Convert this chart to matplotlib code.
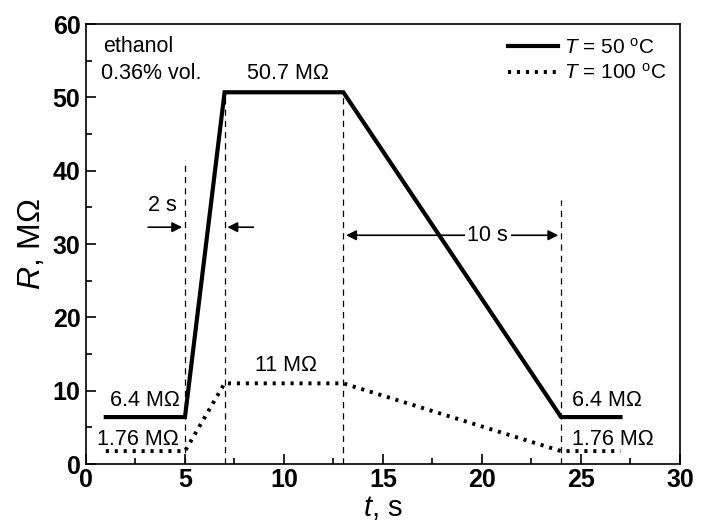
import matplotlib
matplotlib.use("Agg")
import matplotlib.pyplot as plt
from matplotlib.ticker import MultipleLocator

plt.rcParams['font.family'] = ['Liberation Sans', 'DejaVu Sans']
plt.rcParams['mathtext.fontset'] = 'custom'
plt.rcParams['mathtext.rm'] = 'Liberation Sans'
plt.rcParams['mathtext.it'] = 'Liberation Sans:italic'

t = [1, 5, 7, 13, 24, 27]
r50 = [6.4, 6.4, 50.7, 50.7, 6.4, 6.4]
r100 = [1.76, 1.76, 11, 11, 1.76, 1.76]

fig = plt.figure(figsize=(7.02, 5.24), dpi=100)
ax = fig.add_axes([0.1225, 0.1145, 0.846, 0.8395])

ax.plot(t, r50, color='black', lw=3, solid_joinstyle='miter', label=r'$T$ = 50 $^{\mathrm{o}}$C')
ax.plot(t, r100, color='black', lw=2.8, linestyle=(0, (0.8, 1.5)), label=r'$T$ = 100 $^{\mathrm{o}}$C')

# dashed guides
dash = dict(color='black', lw=0.9, linestyle=(0, (5, 4)))
ax.plot([5, 5], [0, 41.5], **dash)
ax.plot([7, 7], [0, 50.7], **dash)
ax.plot([13, 13], [0, 50.7], **dash)
ax.plot([24, 24], [0, 36], **dash)

# arrows
ap = dict(arrowstyle='-|>', color='black', lw=1.2, mutation_scale=15)
ax.annotate('', xy=(5, 32.3), xytext=(3.0, 32.3), arrowprops=ap)
ax.annotate('', xy=(7, 32.3), xytext=(8.6, 32.3), arrowprops=ap)
ax.annotate('', xy=(13, 31.2), xytext=(24, 31.2),
            arrowprops=dict(arrowstyle='<|-|>', color='black', lw=1.2, mutation_scale=15))
fs = 15.5
ax.text(20.3, 31.2, '10 s', ha='center', va='center', fontsize=fs,
        bbox=dict(facecolor='white', edgecolor='none', pad=2))
ax.text(3.85, 35.3, '2 s', ha='center', va='center', fontsize=fs)

ax.text(0.85, 56.9, 'ethanol', ha='left', va='center', fontsize=fs)
ax.text(0.75, 53.3, '0.36% vol.', ha='left', va='center', fontsize=fs)
ax.text(10.2, 53.3, '50.7 MΩ', ha='center', va='center', fontsize=fs)
ax.text(10.1, 13.4, '11 MΩ', ha='center', va='center', fontsize=fs)
ax.text(3.0, 8.6, '6.4 MΩ', ha='center', va='center', fontsize=fs)
ax.text(2.6, 3.4, '1.76 MΩ', ha='center', va='center', fontsize=fs)
ax.text(26.3, 8.6, '6.4 MΩ', ha='center', va='center', fontsize=fs)
ax.text(26.6, 3.4, '1.76 MΩ', ha='center', va='center', fontsize=fs)

ax.set_xlim(0, 30)
ax.set_ylim(0, 60)
ax.xaxis.set_major_locator(MultipleLocator(5))
ax.xaxis.set_minor_locator(MultipleLocator(2.5))
ax.yaxis.set_major_locator(MultipleLocator(10))
ax.yaxis.set_minor_locator(MultipleLocator(5))
ax.tick_params(which='both', direction='in', top=False, right=False, width=1.2)
ax.tick_params(which='major', length=7, labelsize=18, pad=4)
ax.tick_params(axis='x', which='major', pad=3)
ax.tick_params(which='minor', length=4)
for lab in ax.get_xticklabels() + ax.get_yticklabels():
    lab.set_fontweight('bold')
for s in ax.spines.values():
    s.set_linewidth(1.2)

ax.set_xlabel(r'$t$, s', fontsize=21, labelpad=1)
ax.set_ylabel(r'$R$, MΩ', fontsize=23, labelpad=4)

leg = ax.legend(loc='upper right', frameon=False, fontsize=15, handlelength=2.4,
                handletextpad=0.3, borderaxespad=0.25, labelspacing=0.25)

fig.savefig('out.png', dpi=100)
